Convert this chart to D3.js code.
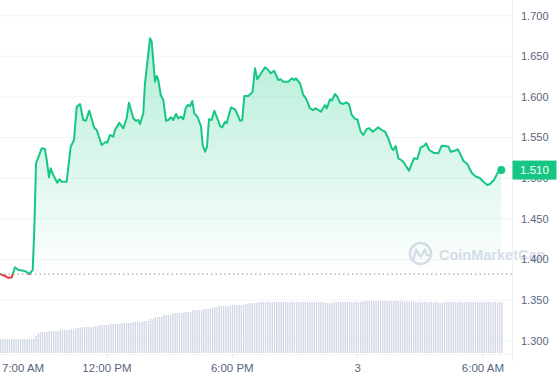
<!DOCTYPE html>
<html>
<head>
<meta charset="utf-8">
<script src="https://cdn.jsdelivr.net/npm/d3@7"></script>
<style>
body{margin:0;background:#fff;}
svg{display:block;font-family:"Liberation Sans",Arial,sans-serif;}
</style>
</head>
<body>
<svg id="chart" width="558" height="380"></svg>
<script>
// price, hours since midnight of the 2nd
const priceHours = [
6.878,7.117,7.275,7.438,7.596,7.754,8.075,8.281,8.444,8.520,
8.602,8.874,9.032,9.114,9.224,9.305,9.430,9.621,9.717,9.832,
10.071,10.263,10.421,10.550,10.708,10.866,10.995,11.153,11.393,11.508,
11.747,11.953,12.015,12.144,12.302,12.384,12.590,12.781,12.944,13.054,
13.260,13.375,13.499,13.581,13.739,13.820,14.060,14.141,14.299,14.380,
14.457,14.572,14.696,14.826,14.936,15.065,15.175,15.304,15.414,15.544,
15.654,15.769,15.865,15.975,16.085,16.180,16.343,16.501,16.582,16.693,
16.789,16.884,17.013,17.138,17.301,17.411,17.521,17.650,17.731,17.938,
18.129,18.258,18.368,18.478,18.574,18.766,18.929,18.967,19.087,19.197,
19.326,19.565,19.723,19.838,19.996,20.202,20.317,20.442,20.681,20.844,
20.968,21.050,21.241,21.399,21.528,21.720,21.878,21.993,22.247,22.438,
22.520,22.677,22.759,22.917,23.027,23.156,23.314,23.443,23.587,23.717,
23.874,23.985,24.147,24.272,24.435,24.559,24.722,24.990,25.153,25.311,
25.469,25.632,25.708,25.823,25.948,26.077,26.187,26.316,26.460,26.589,
26.700,26.858,27.020,27.178,27.274,27.432,27.624,27.863,28.026,28.184,
28.342,28.457,28.662,28.792,28.901,29.059,29.251,29.462,29.620,29.859,
30.017,30.209,30.338,30.530,30.688,30.879
];
const priceValues = [
1.3821,1.3797,1.3772,1.3780,1.3903,1.3870,1.3858,1.3821,1.3870,1.4362,
1.5183,1.5368,1.5359,1.5224,1.5011,1.5122,1.5039,1.4945,1.4986,1.4957,
1.4957,1.5388,1.5470,1.5880,1.5913,1.5716,1.5708,1.5831,1.5621,1.5593,
1.5409,1.5449,1.5437,1.5532,1.5511,1.5593,1.5683,1.5614,1.5741,1.5929,
1.5737,1.5708,1.5716,1.5667,1.5799,1.6168,1.6722,1.6680,1.6188,1.6258,
1.6209,1.6024,1.5963,1.5708,1.5716,1.5750,1.5716,1.5790,1.5737,1.5757,
1.5725,1.5860,1.5901,1.5889,1.5950,1.5799,1.5750,1.5642,1.5409,1.5326,
1.5388,1.5725,1.5716,1.5831,1.5725,1.5642,1.5626,1.5695,1.5676,1.5873,
1.5848,1.5778,1.5708,1.5716,1.6012,1.6012,1.6052,1.6061,1.6353,1.6217,
1.6270,1.6365,1.6332,1.6291,1.6323,1.6209,1.6217,1.6188,1.6188,1.6229,
1.6209,1.6229,1.6168,1.6024,1.5983,1.5860,1.5839,1.5860,1.5818,1.5901,
1.5860,1.5971,1.5954,1.6036,1.6003,1.5929,1.5913,1.5934,1.5913,1.5778,
1.5729,1.5725,1.5572,1.5532,1.5605,1.5614,1.5572,1.5626,1.5593,1.5572,
1.5491,1.5368,1.5347,1.5396,1.5245,1.5224,1.5203,1.5150,1.5092,1.5175,
1.5245,1.5236,1.5380,1.5396,1.5429,1.5347,1.5314,1.5306,1.5400,1.5396,
1.5388,1.5326,1.5338,1.5356,1.5306,1.5215,1.5175,1.5068,1.5027,1.4999,
1.4957,1.4916,1.4929,1.4978,1.5060,1.5100
];
const openPrice = 1.382;
const lastPrice = 1.510;

// 24h volume bars, evenly spaced over the same span
const volumeValues = [
14,14,14,14,14,14,14,14,14,14,14,14,14,14,14,14,17,20,21,21,
21,21,22,22,22,22,22,23,23,23,23,23,24,24,25,25,25,26,26,26,
26,26,26,27,27,28,28,28,28,29,29,29,29,29,29,30,30,30,30,30,
31,31,31,31,31,32,32,32,34,34,36,36,36,36,38,38,38,38,40,40,
40,40,40,41,41,41,41,43,43,43,43,43,44,44,44,45,45,46,46,47,
47,47,47,47,48,48,48,48,48,48,48,49,49,50,50,50,50,51,51,51,
51,51,51,51,51,51,51,51,51,51,51,51,51,51,51,51,51,51,51,51,
51,51,51,51,51,51,51,50,50,50,50,51,51,51,51,51,51,51,51,51,
51,51,51,51,52,52,52,52,52,52,52,52,52,52,52,52,52,52,52,52,
52,52,52,51.5,51.5,51.5,51.5,51.5,51,51,51,51,51,51,51,51,51,51,
51,50,50,51,51,51,51,51,51,51,51,51,51,51,51,51,51,51,51,51,
51,51,51,51,51,51,51,51,51,51
];

const yTicks = [1.30,1.35,1.40,1.45,1.50,1.55,1.60,1.65,1.70];
const xTickHours = [7,12,18,24,30];

const green = "#16c784", red = "#ea3943", grey = "#58667e";
const plotRight = 512;

const base = new Date(2024, 0, 2);
const toDate = h => new Date(base.getTime() + h * 3600000);

const price = priceHours.map((h, i) => ({t: toDate(h), v: priceValues[i]}));
const t0 = price[0].t, t1 = price[price.length - 1].t;
const volStep = (t1 - t0) / (volumeValues.length - 1);
const volume = volumeValues.map((v, i) => ({t: new Date(+t0 + i * volStep), v: v}));

const svg = d3.select("#chart");

const x = d3.scaleTime().domain([t0, t1]).range([0, 501.3]);
const y = d3.scaleLinear().domain([1.3, 1.7]).range([340.7, 15.7]);
const yVol = d3.scaleLinear().domain([0, 52]).range([353, 301]);
const yBase = y(openPrice);

// gradient + clips
const defs = svg.append("defs");
const grad = defs.append("linearGradient").attr("id", "fillG")
    .attr("gradientUnits", "userSpaceOnUse")
    .attr("x1", 0).attr("x2", 0).attr("y1", y(1.67)).attr("y2", yBase);
grad.append("stop").attr("offset", 0).attr("stop-color", green).attr("stop-opacity", 0.32);
grad.append("stop").attr("offset", 1).attr("stop-color", green).attr("stop-opacity", 0.0);

defs.append("clipPath").attr("id", "above").append("rect")
    .attr("x", -5).attr("y", 0).attr("width", 520).attr("height", yBase);
defs.append("clipPath").attr("id", "below").append("rect")
    .attr("x", -5).attr("y", yBase).attr("width", 520).attr("height", 380 - yBase);

// grid
svg.append("g").selectAll("line").data(yTicks).join("line")
    .attr("x1", 0).attr("x2", plotRight)
    .attr("y1", d => y(d)).attr("y2", d => y(d))
    .attr("stroke", "#f3f4f6").attr("stroke-width", 1);

svg.append("line").attr("x1", plotRight + 0.5).attr("x2", plotRight + 0.5)
    .attr("y1", 0).attr("y2", 362).attr("stroke", "#eff2f5");
svg.append("line").attr("x1", 0).attr("x2", plotRight)
    .attr("y1", 354.5).attr("y2", 354.5).attr("stroke", "#f3f4f6");

// volume
svg.append("g").selectAll("rect").data(volume).join("rect")
    .attr("x", d => x(d.t))
    .attr("y", d => yVol(d.v))
    .attr("width", 1.3)
    .attr("height", d => yVol(0) - yVol(d.v))
    .attr("fill", "#cfd6e4");

// watermark
const wm = svg.append("g").attr("opacity", 0.8);
wm.append("circle").attr("cx", 420.5).attr("cy", 253.5).attr("r", 10.5)
    .attr("fill", "none").attr("stroke", "#cfd6e4").attr("stroke-width", 2.6);
wm.append("path").attr("d", "M413.5,259 L416,249.5 L420.5,257 L425,249.5 L426.5,255 L429,255")
    .attr("fill", "none").attr("stroke", "#cfd6e4").attr("stroke-width", 2.4)
    .attr("stroke-linejoin", "round").attr("stroke-linecap", "round");
wm.append("text").attr("x", 439).attr("y", 259.5)
    .attr("font-size", 14.5).attr("font-weight", 700).attr("fill", "#cfd6e4")
    .text("CoinMarketCap");

// area
const area = d3.area().x(d => x(d.t)).y0(yBase).y1(d => y(d.v));
svg.append("path").datum(price).attr("d", area)
    .attr("fill", "url(#fillG)").attr("clip-path", "url(#above)");

// open price dotted line
svg.append("line").attr("x1", 0).attr("x2", plotRight)
    .attr("y1", yBase).attr("y2", yBase)
    .attr("stroke", "#8a94a6").attr("stroke-width", 1.2)
    .attr("stroke-dasharray", "1.2,3.2");

const line = d3.line().x(d => x(d.t)).y(d => y(d.v));
svg.append("path").datum(price).attr("d", line)
    .attr("fill", "none").attr("stroke", green).attr("stroke-width", 2)
    .attr("stroke-linejoin", "round").attr("clip-path", "url(#above)");
svg.append("path").datum(price).attr("d", line)
    .attr("fill", "none").attr("stroke", red).attr("stroke-width", 2)
    .attr("stroke-linejoin", "round").attr("clip-path", "url(#below)");

const last = price[price.length - 1];
svg.append("circle").attr("cx", x(last.t)).attr("cy", y(last.v)).attr("r", 4)
    .attr("fill", green);

// y labels
svg.append("g").selectAll("text").data(yTicks).join("text")
    .attr("x", 521).attr("y", d => y(d)).attr("dy", "0.35em")
    .attr("font-size", 11).attr("fill", grey)
    .text(d3.format(".3f"));

// current price tag
svg.append("rect").attr("x", plotRight + 0.5).attr("y", y(lastPrice) - 9.5)
    .attr("width", 44).attr("height", 19).attr("fill", green);
svg.append("text").attr("x", 534.5).attr("y", y(lastPrice)).attr("dy", "0.36em")
    .attr("text-anchor", "middle").attr("font-size", 11.5).attr("fill", "#fff")
    .text(d3.format(".3f")(lastPrice));

// x ticks and labels
const fmtDay = d3.timeFormat("%-d"), fmtTime = d3.timeFormat("%-I:%M %p");
const xt = xTickHours.map(toDate);
svg.append("g").selectAll("line").data(xt.slice(1)).join("line")
    .attr("x1", d => x(d)).attr("x2", d => x(d))
    .attr("y1", 354.5).attr("y2", 358).attr("stroke", "#e6e9ee");
svg.append("g").selectAll("text").data(xt).join("text")
    .attr("x", d => x(d) < 20 ? 2 : x(d))
    .attr("text-anchor", d => x(d) < 20 ? "start" : "middle")
    .attr("y", 372).attr("font-size", 11.5).attr("fill", grey)
    .text(d => d.getHours() === 0 ? fmtDay(d) : fmtTime(d));
</script>
</body>
</html>
